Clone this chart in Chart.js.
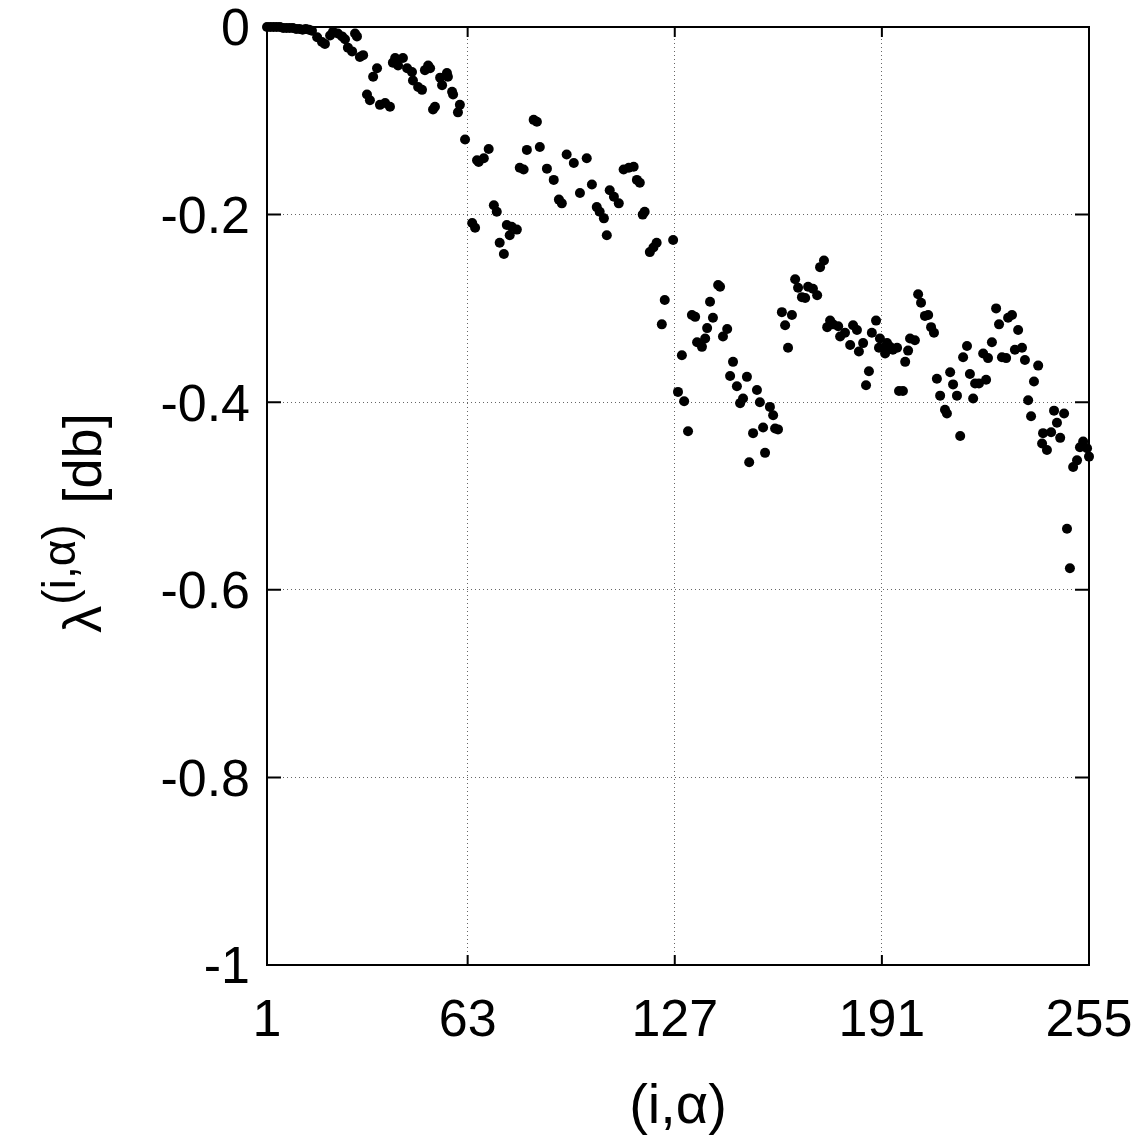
<!DOCTYPE html>
<html>
<head>
<meta charset="utf-8">
<script src="https://cdn.jsdelivr.net/npm/chart.js@4.4.0/dist/chart.umd.min.js"></script>
<style>
  html, body { margin: 0; padding: 0; background: #fff; }
  #wrap { width: 1138px; height: 1138px; }
</style>
</head>
<body>
<div id="wrap"><canvas id="lambda-chart"></canvas></div>
<script>
// tick positions
var xTicks = [1, 63, 127, 191, 255];
var yTicks = [0, -0.2, -0.4, -0.6, -0.8, -1];

// index (i,alpha) and lambda in db
var idx = [1, 2, 3, 4, 5, 6, 7, 8, 9, 10, 11, 12, 13, 14, 14.9, 16.5, 18.0, 18.9, 20.5, 21.4,
    22.9, 24.2, 25.1, 26.0, 27.3, 28.2, 28.8, 29.7, 30.7, 31.9, 32.8, 33.8, 35.0, 35.9, 37.5, 39.0,
    39.9, 40.6, 41.5, 43.0, 44.3, 45.8, 46.1, 47.7, 48.9, 49.8, 50.8, 51.4, 52.3, 52.9, 54.5, 55.1,
    56.6, 56.9, 58.2, 58.5, 60.0, 60.6, 62.2, 64.4, 65.3, 65.9, 66.4, 68.0, 69.5, 71.1, 72.0, 72.9,
    74.2, 75.1, 76.0, 76.6, 78.2, 79.1, 80.3, 81.3, 83.4, 84.4, 85.3, 87.5, 89.6, 91.2, 92.1, 93.6,
    95.8, 97.7, 99.8, 101.4, 102.9, 103.8, 105.1, 106.0, 106.9, 108.2, 109.7, 111.2, 112.8, 114.3,
    115.3, 116.2, 117.1, 117.7, 119.3, 120.4, 121.4, 123.0, 123.9, 126.5, 128.0, 129.2, 129.9, 131.1,
    132.3, 133.3, 133.9, 135.4, 136.4, 137.0, 137.9, 138.8, 140.4, 141.0, 141.9, 143.2, 144.1, 145.0,
    146.2, 147.2, 148.1, 149.3, 150.0, 151.2, 152.4, 153.3, 154.3, 154.9, 156.4, 157.4, 158.0, 158.9,
    160.1, 161.1, 162.0, 163.2, 164.2, 165.1, 166.3, 167.3, 168.2, 169.7, 171.0, 171.9, 173.1, 174.1,
    175.0, 175.9, 177.5, 178.1, 179.6, 181.2, 182.1, 183.3, 183.9, 185.2, 186.1, 187.0, 187.9, 189.2,
    190.1, 190.4, 191.7, 192.0, 192.6, 193.5, 194.4, 195.7, 196.3, 197.5, 198.2, 199.1, 199.7, 201.2,
    202.2, 203.1, 204.3, 205.3, 206.2, 207.1, 208.0, 209.0, 210.5, 211.1, 212.1, 213.0, 214.2, 215.2,
    216.1, 217.3, 218.2, 219.2, 219.8, 221.0, 222.3, 223.2, 223.8, 225.0, 226.3, 227.2, 228.1, 229.4,
    230.0, 231.2, 232.1, 233.1, 234.3, 235.2, 236.2, 237.1, 238.0, 239.3, 240.5, 240.8, 242.0, 243.3,
    244.2, 245.1, 246.1, 247.3, 248.2, 249.1, 250.1, 251.3, 252.2, 253.2, 254.4, 255];
var lambdaDb = [0, 0, 0, 0, 0, -0.001, -0.001, -0.001, -0.001, -0.002, -0.002, -0.003, -0.002, -0.003,
    -0.004, -0.011, -0.016, -0.018, -0.009, -0.005, -0.007, -0.010, -0.013, -0.022, -0.026, -0.007,
    -0.010, -0.032, -0.030, -0.072, -0.078, -0.053, -0.044, -0.083, -0.081, -0.085, -0.038, -0.033,
    -0.041, -0.033, -0.044, -0.048, -0.057, -0.064, -0.067, -0.046, -0.041, -0.044, -0.088, -0.085,
    -0.054, -0.062, -0.049, -0.053, -0.069, -0.072, -0.091, -0.083, -0.120, -0.209, -0.214, -0.142,
    -0.144, -0.140, -0.130, -0.190, -0.197, -0.230, -0.242, -0.211, -0.222, -0.213, -0.216, -0.150,
    -0.152, -0.131, -0.099, -0.101, -0.128, -0.151, -0.163, -0.184, -0.188, -0.136, -0.145, -0.177,
    -0.140, -0.168, -0.192, -0.197, -0.204, -0.222, -0.174, -0.181, -0.188, -0.152, -0.150, -0.149,
    -0.163, -0.166, -0.200, -0.197, -0.240, -0.235, -0.230, -0.317, -0.291, -0.227, -0.389, -0.350,
    -0.399, -0.431, -0.307, -0.309, -0.336, -0.341, -0.332, -0.321, -0.293, -0.310, -0.275, -0.277,
    -0.330, -0.322, -0.372, -0.357, -0.383, -0.401, -0.396, -0.373, -0.464, -0.433, -0.387, -0.400,
    -0.427, -0.454, -0.405, -0.414, -0.428, -0.429, -0.304, -0.318, -0.342, -0.307, -0.269, -0.278,
    -0.288, -0.289, -0.277, -0.279, -0.286, -0.256, -0.249, -0.320, -0.313, -0.317, -0.319, -0.330,
    -0.326, -0.339, -0.318, -0.323, -0.346, -0.337, -0.382, -0.367, -0.326, -0.313, -0.342, -0.332,
    -0.342, -0.348, -0.337, -0.341, -0.344, -0.342, -0.388, -0.388, -0.357, -0.345, -0.332, -0.334,
    -0.285, -0.294, -0.308, -0.307, -0.320, -0.326, -0.375, -0.393, -0.408, -0.412, -0.368, -0.381,
    -0.393, -0.436, -0.352, -0.340, -0.370, -0.396, -0.380, -0.380, -0.348, -0.376, -0.353, -0.336,
    -0.300, -0.317, -0.352, -0.353, -0.310, -0.307, -0.344, -0.323, -0.342, -0.355, -0.398, -0.415,
    -0.378, -0.361, -0.444, -0.433, -0.451, -0.432, -0.409, -0.422, -0.438, -0.412, -0.535, -0.577,
    -0.469, -0.462, -0.448, -0.442, -0.449, -0.458];

var points = [];
for (var i = 0; i < idx.length; i++) {
    points.push({x: idx[i], y: lambdaDb[i]});
}

var FONT = "'Liberation Sans', Arial, Helvetica, sans-serif";

// box round the plot with inward tick marks, like gnuplot
var framePlugin = {
    id: 'frame',
    afterDatasetsDraw: function (chart) {
        var ctx = chart.ctx;
        var a = chart.chartArea;
        var xs = chart.scales.x, ys = chart.scales.y;
        ctx.save();
        ctx.strokeStyle = '#000';
        ctx.lineWidth = 2;
        ctx.strokeRect(a.left, a.top, a.right - a.left, a.bottom - a.top);
        ctx.beginPath();
        xTicks.forEach(function (t) {
            var px = xs.getPixelForValue(t);
            ctx.moveTo(px, a.bottom); ctx.lineTo(px, a.bottom - 10);
            ctx.moveTo(px, a.top); ctx.lineTo(px, a.top + 10);
        });
        yTicks.forEach(function (t) {
            var py = ys.getPixelForValue(t);
            ctx.moveTo(a.left, py); ctx.lineTo(a.left + 14, py);
            ctx.moveTo(a.right, py); ctx.lineTo(a.right - 14, py);
        });
        ctx.stroke();
        ctx.restore();
    }
};

// rotated y title with superscript
var yTitlePlugin = {
    id: 'ytitle',
    afterDraw: function (chart) {
        var ctx = chart.ctx;
        var big = '54px ' + FONT, small = '46px ' + FONT;
        var gap = 22;
        ctx.save();
        ctx.fillStyle = '#000';
        ctx.textBaseline = 'alphabetic';
        ctx.textAlign = 'left';
        ctx.font = big;
        var w1 = ctx.measureText('\u03bb').width;
        var w3 = ctx.measureText('[db]').width;
        ctx.font = small;
        var w2 = ctx.measureText('(i,\u03b1)').width;
        var total = w1 + w2 + gap + w3;
        ctx.translate(101, 523);
        ctx.rotate(-Math.PI / 2);
        var x0 = -total / 2;
        ctx.font = big;
        ctx.fillText('\u03bb', x0, 0);
        ctx.font = small;
        ctx.fillText('(i,\u03b1)', x0 + w1 + 1, -26);
        ctx.font = big;
        ctx.fillText('[db]', x0 + w1 + w2 + gap, 0);
        ctx.restore();
    }
};

var ctx = document.getElementById('lambda-chart');
var lambdaChart = new Chart(ctx, {
    type: 'scatter',
    data: {
        datasets: [{
            label: 'lambda',
            data: points,
            backgroundColor: '#000',
            borderColor: '#000',
            pointRadius: 5,
            pointBorderWidth: 0,
            clip: false
        }]
    },
    options: {
        responsive: true,
        maintainAspectRatio: false,
        animation: false,
        events: [],
        layout: { padding: { top: 27, right: 49, left: 0, bottom: 0 } },
        plugins: {
            legend: { display: false },
            tooltip: { enabled: false }
        },
        scales: {
            x: {
                type: 'linear',
                min: 1,
                max: 255,
                afterBuildTicks: function (s) {
                    s.ticks = xTicks.map(function (v) { return {value: v}; });
                },
                afterFit: function (s) {
                    s.height = 173;
                    s.paddingLeft = 0;
                    s.paddingRight = 0;
                },
                ticks: {
                    color: '#000',
                    padding: 31,
                    maxRotation: 0,
                    font: { family: FONT, size: 52, lineHeight: 1 }
                },
                grid: { color: '#666', lineWidth: 1, drawTicks: false },
                border: { display: false, dash: [1, 3] },
                title: {
                    display: true,
                    text: '(i,\u03b1)',
                    color: '#000',
                    font: { family: FONT, size: 56, lineHeight: 1 },
                    padding: { top: 0, bottom: 2 }
                }
            },
            y: {
                type: 'linear',
                min: -1,
                max: 0,
                afterBuildTicks: function (s) {
                    s.ticks = yTicks.map(function (v) { return {value: v}; });
                },
                afterFit: function (s) {
                    s.width = 267;
                    s.paddingTop = 0;
                    s.paddingBottom = 0;
                },
                ticks: {
                    color: '#000',
                    padding: 17,
                    labelOffset: 4,
                    font: { family: FONT, size: 52, lineHeight: 1 },
                    callback: function (v) { return String(Math.round(v * 10) / 10); }
                },
                grid: { color: '#666', lineWidth: 1, drawTicks: false },
                border: { display: false, dash: [1, 3] }
            }
        }
    },
    plugins: [framePlugin, yTitlePlugin]
});
</script>
</body>
</html>
